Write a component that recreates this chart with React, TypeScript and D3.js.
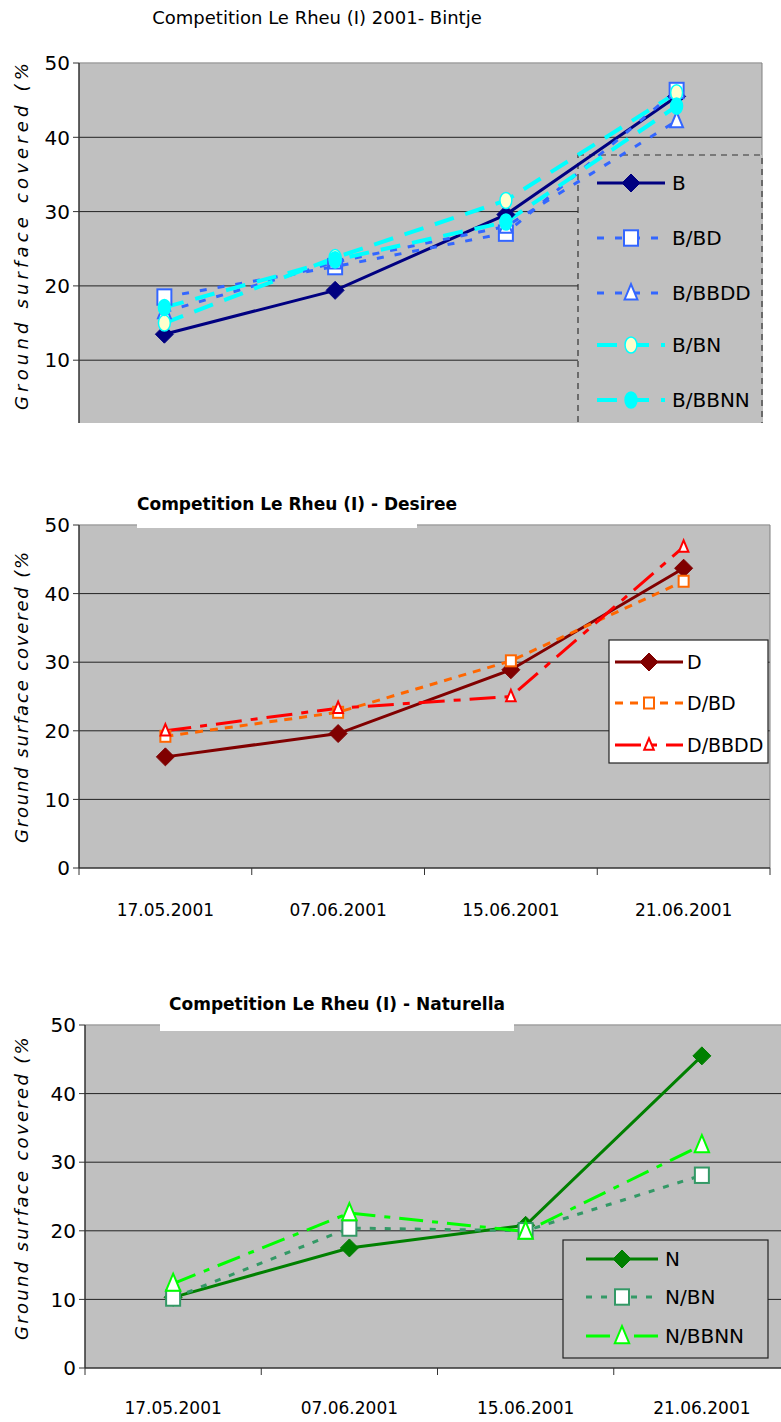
import React from "react";
import * as d3 from "d3";

const dates = ["17.05.2001", "07.06.2001", "15.06.2001", "21.06.2001"];
const yTicks1 = [10, 20, 30, 40, 50];
const yTicks = [0, 10, 20, 30, 40, 50];

const bintjeNames = ["B", "B/BD", "B/BBDD", "B/BN", "B/BBNN"];
const bB = [13.5, 19.4, 29.6, 45.5];
const bBD = [18.5, 22.6, 27.1, 46.3];
const bBBDD = [16.5, 23.2, 28.0, 42.2];
const bBN = [15.0, 23.8, 31.5, 46.0];
const bBBNN = [17.1, 23.5, 28.6, 44.2];

const desireeNames = ["D", "D/BD", "D/BBDD"];
const dD = [16.2, 19.6, 28.9, 43.7];
const dBD = [19.2, 22.7, 30.2, 41.8];
const dBBDD = [20.0, 23.3, 25.0, 46.8];

const naturellaNames = ["N", "N/BN", "N/BBNN"];
const nN = [10.3, 17.5, 20.8, 45.5];
const nBN = [10.2, 20.4, 20.0, 28.1];
const nBBNN = [12.3, 22.6, 19.9, 32.5];

const FONT = "'Comic Sans MS', 'DejaVu Sans', sans-serif";

type Marker = "diamond" | "square" | "triangle" | "circle";
type Series = {
  name: string;
  values: number[];
  color: string;
  width: number;
  dash?: string;
  marker: Marker;
  fill: string;
  msize: number;
};

const bintjeSeries: Series[] = [
  { name: bintjeNames[0], values: bB, color: "#000080", width: 3, marker: "diamond", fill: "#000080", msize: 9 },
  { name: bintjeNames[1], values: bBD, color: "#3366FF", width: 3, dash: "7 11", marker: "square", fill: "#FFFFFF", msize: 7 },
  { name: bintjeNames[2], values: bBBDD, color: "#3366FF", width: 3, dash: "7 11", marker: "triangle", fill: "#FFFFFF", msize: 8 },
  { name: bintjeNames[3], values: bBN, color: "#00FFFF", width: 4, dash: "20 12", marker: "circle", fill: "#FFFFCC", msize: 7 },
  { name: bintjeNames[4], values: bBBNN, color: "#00FFFF", width: 4, dash: "20 12", marker: "circle", fill: "#00FFFF", msize: 7 },
];

const desireeSeries: Series[] = [
  { name: desireeNames[0], values: dD, color: "#800000", width: 3, marker: "diamond", fill: "#800000", msize: 9 },
  { name: desireeNames[1], values: dBD, color: "#FF6600", width: 3, dash: "8 7", marker: "square", fill: "#FFFFFF", msize: 5 },
  { name: desireeNames[2], values: dBBDD, color: "#FF0000", width: 3, dash: "26 9 7 9", marker: "triangle", fill: "#FFFFFF", msize: 6 },
];

const naturellaSeries: Series[] = [
  { name: naturellaNames[0], values: nN, color: "#008000", width: 3, marker: "diamond", fill: "#008000", msize: 9 },
  { name: naturellaNames[1], values: nBN, color: "#339966", width: 3, dash: "6 9", marker: "square", fill: "#FFFFFF", msize: 7 },
  { name: naturellaNames[2], values: nBBNN, color: "#00FF00", width: 3, dash: "24 9 6 9", marker: "triangle", fill: "#FFFFFF", msize: 9 },
];

function MarkerShape({ m, x, y, s }: { m: Series; x: number; y: number; s: number }) {
  const sw = m.marker === "diamond" ? 0 : 2;
  if (m.marker === "diamond") {
    return <path d={`M${x},${y - s}L${x + s},${y}L${x},${y + s}L${x - s},${y}Z`} fill={m.fill} stroke={m.color} strokeWidth={1} />;
  }
  if (m.marker === "square") {
    return <rect x={x - s} y={y - s * 1.1} width={2 * s} height={2.2 * s} fill={m.fill} stroke={m.color} strokeWidth={sw} />;
  }
  if (m.marker === "triangle") {
    return <path d={`M${x},${y - s * 1.1}L${x + s * 0.8},${y + s * 0.8}L${x - s * 0.8},${y + s * 0.8}Z`} fill={m.fill} stroke={m.color} strokeWidth={sw} />;
  }
  return <ellipse cx={x} cy={y} rx={s * 0.85} ry={s * 1.15} fill={m.fill} stroke={m.color} strokeWidth={1.5} />;
}

type ChartCfg = {
  id: string;
  left: number;
  right: number;
  top: number;
  zeroY: number;
  bottom: number;
  ticks: number[];
  series: Series[];
  showX: boolean;
  xLabelY: number;
  yLabelStart: number;
  yLabelLen: number;
  yLabelClipTop: number;
  legend: { x0: number; x1: number; y0: number; y1: number; fill: string; dashed: boolean; lx0: number; lx1: number; tx: number; rows: number[]; fontSize: number };
  title: { text: string; x: number; y: number; bold: boolean; size: number; box?: { x0: number; x1: number; y0: number; y1: number } };
};

function Chart({ c }: { c: ChartCfg }) {
  const x = d3.scaleBand<string>().domain(dates).range([c.left, c.right]);
  const y = d3.scaleLinear().domain([0, 50]).range([c.zeroY, c.top]);
  const line = d3
    .line<number>()
    .x((_, i) => (x(dates[i]) as number) + x.bandwidth() / 2)
    .y((v) => y(v));
  const plotClip = `plot-${c.id}`;
  const lg = c.legend;
  return (
    <g>
      <defs>
        <clipPath id={plotClip}>
          <rect x={c.left} y={c.top - 20} width={c.right - c.left + 20} height={c.bottom - c.top + 20} />
        </clipPath>
        <clipPath id={`yl-${c.id}`}>
          <rect x={0} y={c.yLabelClipTop} width={60} height={1000} />
        </clipPath>
      </defs>
      <rect x={c.left} y={c.top} width={c.right - c.left} height={c.bottom - c.top} fill="#C0C0C0" />
      <line x1={c.left} x2={c.right} y1={c.top} y2={c.top} stroke="#A0A0A0" strokeWidth={1.5} />
      {c.ticks
        .filter((t) => t > 0 && t < 50)
        .map((t) => (
          <line key={t} x1={c.left} x2={c.right} y1={y(t)} y2={y(t)} stroke="#222" strokeWidth={1} />
        ))}
      <line x1={c.right} x2={c.right} y1={c.top} y2={c.bottom} stroke="#808080" strokeWidth={1} />
      {c.title.box && (
        <rect x={c.title.box.x0} y={c.title.box.y0} width={c.title.box.x1 - c.title.box.x0} height={c.title.box.y1 - c.title.box.y0} fill="#FFFFFF" />
      )}
      <text x={c.title.x} y={c.title.y} textAnchor="middle" fontFamily={FONT} fontSize={c.title.size} fontWeight={c.title.bold ? "bold" : "normal"} fill="#000">
        {c.title.text}
      </text>
      <g clipPath={`url(#${plotClip})`}>
        <rect
          x={lg.x0}
          y={lg.y0}
          width={lg.x1 - lg.x0}
          height={lg.y1 - lg.y0}
          fill={lg.fill}
          stroke={lg.dashed ? "#333" : "#222"}
          strokeWidth={1.2}
          strokeDasharray={lg.dashed ? "6 5" : undefined}
        />
      </g>
      <g clipPath={`url(#${plotClip})`}>
        {c.series.map((s) => (
          <path key={s.name} d={line(s.values) || ""} fill="none" stroke={s.color} strokeWidth={s.width} strokeDasharray={s.dash} />
        ))}
        {c.series.map((s) =>
          s.values.map((v, i) => (
            <MarkerShape key={s.name + i} m={s} x={(x(dates[i]) as number) + x.bandwidth() / 2} y={y(v)} s={s.msize} />
          ))
        )}
      </g>
      <g clipPath={`url(#${plotClip})`}>
        {c.series.map((s, i) => (
          <g key={s.name}>
            <line x1={lg.lx0} x2={lg.lx1} y1={lg.rows[i]} y2={lg.rows[i]} stroke={s.color} strokeWidth={s.width} strokeDasharray={s.dash} />
            <MarkerShape m={s} x={(lg.lx0 + lg.lx1) / 2} y={lg.rows[i]} s={s.msize} />
            <text x={lg.tx} y={lg.rows[i]} dy="0.36em" fontFamily={FONT} fontSize={lg.fontSize} fill="#000">
              {s.name}
            </text>
          </g>
        ))}
      </g>
      <line x1={c.left} x2={c.left} y1={c.top} y2={c.bottom} stroke="#333" strokeWidth={1.5} />
      {c.ticks
        .filter((t) => y(t) <= c.bottom)
        .map((t) => (
          <g key={t}>
            <line x1={c.left - 6} x2={c.left} y1={y(t)} y2={y(t)} stroke="#333" strokeWidth={1} />
            <text x={c.left - 9} y={y(t)} dy="0.36em" textAnchor="end" fontFamily={FONT} fontSize={20} fill="#000">
              {t}
            </text>
          </g>
        ))}
      {c.showX && (
        <g>
          <line x1={c.left} x2={c.right} y1={c.zeroY} y2={c.zeroY} stroke="#333" strokeWidth={1.5} />
          {dates.map((d) => (
            <line key={d} x1={x(d) as number} x2={x(d) as number} y1={c.zeroY} y2={c.zeroY + 7} stroke="#333" strokeWidth={1} />
          ))}
          <line x1={c.right} x2={c.right} y1={c.zeroY} y2={c.zeroY + 7} stroke="#333" strokeWidth={1} />
          {dates.map((d) => (
            <text key={d} x={(x(d) as number) + x.bandwidth() / 2} y={c.xLabelY} dy="0.36em" textAnchor="middle" fontFamily={FONT} fontSize={17} fill="#000">
              {d}
            </text>
          ))}
        </g>
      )}
      <g clipPath={`url(#yl-${c.id})`}>
        <text
          transform={`translate(28,${c.yLabelStart}) rotate(-90)`}
          fontFamily={FONT}
          fontSize={18}
          fontStyle="italic"
          textLength={c.yLabelLen}
          lengthAdjust="spacing"
          fill="#000"
        >
          Ground surface covered (%)
        </text>
      </g>
    </g>
  );
}

const charts: ChartCfg[] = [
  {
    id: "b",
    left: 79,
    right: 762,
    top: 63,
    zeroY: 434.5,
    bottom: 423,
    ticks: yTicks1,
    series: bintjeSeries,
    showX: false,
    xLabelY: 0,
    yLabelStart: 410,
    yLabelLen: 358,
    yLabelClipTop: 60,
    legend: { x0: 578, x1: 762, y0: 155, y1: 440, fill: "#C0C0C0", dashed: true, lx0: 597, lx1: 665, tx: 672, rows: [183, 238, 293, 345, 400], fontSize: 20 },
    title: { text: "Competition Le Rheu (I) 2001- Bintje", x: 317, y: 24, bold: false, size: 18 },
  },
  {
    id: "d",
    left: 79,
    right: 770,
    top: 525,
    zeroY: 868,
    bottom: 868,
    ticks: yTicks,
    series: desireeSeries,
    showX: true,
    xLabelY: 910,
    yLabelStart: 843,
    yLabelLen: 300,
    yLabelClipTop: 553,
    legend: { x0: 609, x1: 768, y0: 640, y1: 763, fill: "#FFFFFF", dashed: false, lx0: 615, lx1: 683, tx: 687, rows: [662, 703, 745], fontSize: 19 },
    title: { text: "Competition Le Rheu (I) - Desiree", x: 297, y: 510, bold: true, size: 17, box: { x0: 137, x1: 417, y0: 482, y1: 528 } },
  },
  {
    id: "n",
    left: 85,
    right: 790,
    top: 1025,
    zeroY: 1368,
    bottom: 1368,
    ticks: yTicks,
    series: naturellaSeries,
    showX: true,
    xLabelY: 1408,
    yLabelStart: 1340,
    yLabelLen: 312,
    yLabelClipTop: 1037,
    legend: { x0: 563, x1: 768, y0: 1240, y1: 1358, fill: "#C0C0C0", dashed: false, lx0: 586, lx1: 658, tx: 665, rows: [1259, 1297, 1336], fontSize: 20 },
    title: { text: "Competition Le Rheu (I) - Naturella", x: 337, y: 1010, bold: true, size: 17, box: { x0: 160, x1: 514, y0: 985, y1: 1031 } },
  },
];

export default function App() {
  return (
    <svg width={781} height={1422} style={{ position: "absolute", left: 0, top: 0, background: "#FFFFFF" }}>
      <rect x={0} y={0} width={781} height={1422} fill="#FFFFFF" />
      {charts.map((c) => (
        <Chart key={c.id} c={c} />
      ))}
    </svg>
  );
}
